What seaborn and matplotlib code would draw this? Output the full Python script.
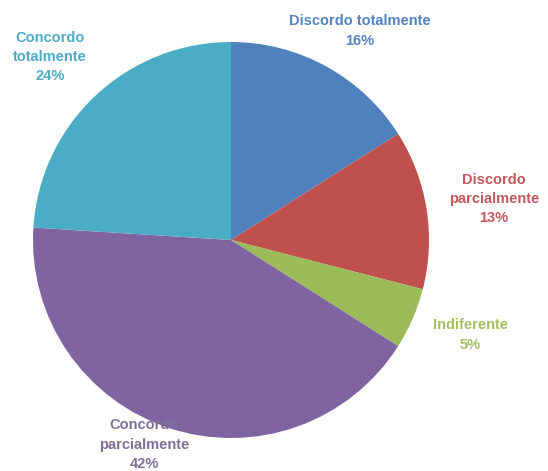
import matplotlib
matplotlib.use("Agg")
import matplotlib.pyplot as plt
import seaborn as sns

# Survey answers (share of respondents, %)
categories = ["Discordo totalmente", "Discordo parcialmente", "Indiferente",
              "Concordo parcialmente", "Concordo totalmente"]
label_lines = ["Discordo totalmente", "Discordo\nparcialmente", "Indiferente",
               "Concordo\nparcialmente", "Concordo\ntotalmente"]
values = [16, 13, 5, 42, 24]

slice_colors = ["#4F81BD", "#C0504D", "#9BBB59", "#8064A2", "#4BACC6"]
text_colors = ["#5583C0", "#C4585A", "#A3BF62", "#7E7099", "#4FAAC6"]

sns.set_theme(style="white")
plt.rcParams["font.family"] = ["Liberation Sans", "DejaVu Sans"]

W, H = 548, 471
fig = plt.figure(figsize=(W / 100, H / 100), dpi=100)
ax = fig.add_axes([0, 0, 1, 1])

# pie centre and radius in pixels
cx, cy, r = 231, 240, 198

ax.pie(values, colors=slice_colors, startangle=90, counterclock=False,
       radius=1, center=(0, 0), wedgeprops=dict(linewidth=0))

ax.set_xlim(-cx / r, (W - cx) / r)
ax.set_ylim(-(H - cy) / r, cy / r)
ax.set_aspect("equal")
ax.axis("off")

# label anchor points in pixels (x, y from top)
anchors = [(360, 31), (494, 199), (470, 335), (144, 445), (50, 57)]

for lab, val, col, (px, py) in zip(label_lines, values, text_colors, anchors):
    ax.text((px - cx) / r, (cy - py) / r, f"{lab}\n{val}%",
            ha="center", va="center", color=col, fontsize=10.5,
            fontweight="bold", linespacing=1.5)

fig.savefig("out.png", dpi=100)
